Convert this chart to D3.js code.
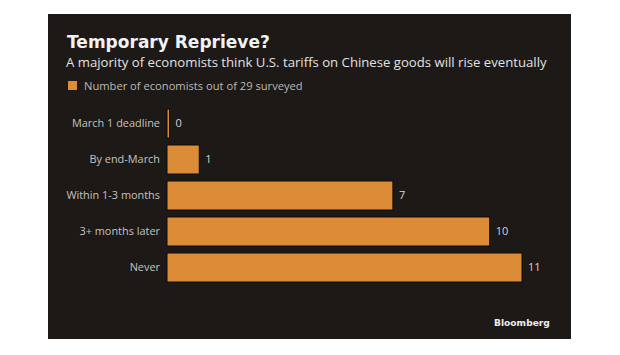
<!DOCTYPE html>
<html><head><meta charset="utf-8">
<script src="https://cdn.jsdelivr.net/npm/d3@7"></script>
<style>html,body{margin:0;padding:0;background:#fff;}svg{display:block;}</style>
</head><body>
<script>
const title = "Temporary Reprieve?";
const subtitle = "A majority of economists think U.S. tariffs on Chinese goods will rise eventually";
const legendLabel = "Number of economists out of 29 surveyed";
const categories = ["March 1 deadline", "By end-March", "Within 1-3 months", "3+ months later", "Never"];
const values = [0, 1, 7, 10, 11];
const source = "Bloomberg";

const W = 620, H = 355;
const svg = d3.select("body").append("svg").attr("width", W).attr("height", H);
svg.append("rect").attr("width", W).attr("height", H).attr("fill", "#fff");
svg.append("rect").attr("x", 48).attr("y", 14).attr("width", 523).attr("height", 325).attr("fill", "#1c1917");

function fit(sel, target) {
  const n = sel.node();
  const fs = parseFloat(sel.attr("font-size"));
  const len = n.getComputedTextLength();
  const nf = fs * target / len;
  sel.attr("font-size", nf.toFixed(2));
  return nf;
}

const t = svg.append("text").attr("x", 67).attr("y", 48).attr("font-family", "DejaVu Sans")
  .attr("font-weight", "bold").attr("font-size", 17).attr("fill", "#f2f2f2").text(title);
fit(t, 203);
const st = svg.append("text").attr("x", 66).attr("y", 67).attr("font-family", "Open Sans")
  .attr("font-size", 13).attr("fill", "#e2e2e2").text(subtitle);
fit(st, 481);

svg.append("rect").attr("x", 68).attr("y", 81).attr("width", 9).attr("height", 9).attr("fill", "#dc8b37");
const lg = svg.append("text").attr("x", 84).attr("y", 89.5).attr("font-family", "Open Sans")
  .attr("font-size", 11).attr("fill", "#bdbab6").text(legendLabel);
fit(lg, 219);

const x = d3.scaleLinear().domain([0, 11]).range([167, 522]);
const y = d3.scaleBand().domain(categories).range([105.5, 285.5]).paddingInner(7/36).paddingOuter(3.5/36);

const g = svg.append("g");
g.selectAll("rect.bar").data(values).join("rect").attr("class", "bar")
  .attr("x", x(0))
  .attr("y", (d, i) => y(categories[i]))
  .attr("width", d => Math.max(x(d) - x(0), 2.5))
  .attr("height", y.bandwidth())
  .attr("fill", "#dc8b37")
  .attr("stroke", "#0e0b09").attr("stroke-width", 1);

const yAxis = d3.axisLeft(y).tickSize(0).tickPadding(7);
const ya = svg.append("g").attr("transform", `translate(${x(0)},0)`).call(yAxis);
ya.select(".domain").remove();
const labs = ya.selectAll("text").attr("font-family", "Open Sans").attr("font-size", 11.5).attr("fill", "#c6c3bf");
const fs = fit(d3.select(labs.nodes()[0]), 88);
labs.attr("font-size", fs.toFixed(2));

g.selectAll("text.val").data(values).join("text").attr("class", "val")
  .attr("x", d => Math.max(x(d), x(0) + 2.5) + 6)
  .attr("y", (d, i) => y(categories[i]) + y.bandwidth() / 2)
  .attr("dy", "0.35em")
  .attr("font-family", "Open Sans").attr("font-size", 11).attr("fill", "#d6d3cf")
  .text(d => d);

const src = svg.append("text").attr("x", 494).attr("y", 326).attr("font-family", "DejaVu Sans")
  .attr("font-weight", "bold").attr("font-size", 11).attr("fill", "#eeeeee").text(source);
fit(src, 56);
</script>
</body></html>
